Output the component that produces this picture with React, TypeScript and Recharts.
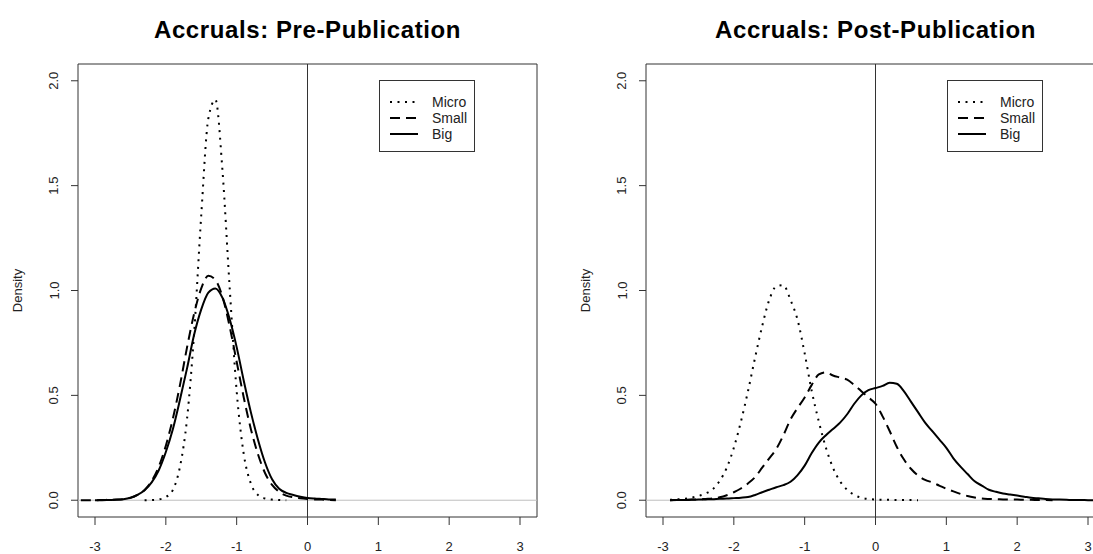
import { LineChart, Line, XAxis, YAxis, ReferenceLine, ReferenceArea, Legend } from "recharts";

// x grid for each panel (density evaluated every 0.1)
const preX = [
  -3.2, -3.1, -3.0, -2.9, -2.8, -2.7, -2.6, -2.5, -2.4, -2.3, -2.2, -2.1, -2.0, -1.9, -1.8, -1.7, -1.6, -1.5, -1.4,
  -1.3, -1.2, -1.1, -1.0, -0.9, -0.8, -0.7, -0.6, -0.5, -0.4, -0.3, -0.2, -0.1, 0.0, 0.1, 0.2, 0.3, 0.4,
];
const preMicro = [
  null, null, null, null, null, null, null, null, null,
  0.0, 0.001, 0.004, 0.015, 0.05, 0.16, 0.39, 0.8, 1.36, 1.82,
  1.91, 1.57, 1.02, 0.52, 0.22, 0.08, 0.025, 0.008, 0.003, 0.001,
  0.0, null, null, null, null, null, null, null,
];
const preSmall = [
  0.0, 0.0, 0.0, 0.001, 0.002, 0.003, 0.005, 0.011, 0.025,
  0.049, 0.092, 0.16, 0.26, 0.39, 0.55, 0.73, 0.89, 1.01, 1.07,
  1.05, 0.97, 0.83, 0.66, 0.49, 0.34, 0.22, 0.13, 0.073, 0.04,
  0.022, 0.014, 0.009, 0.006, 0.004, 0.003, 0.001, 0.0,
];
const preBig = [
  null, null, 0.0, 0.0, 0.001, 0.002, 0.005, 0.012, 0.026,
  0.048, 0.085, 0.143, 0.23, 0.34, 0.48, 0.63, 0.79, 0.91, 0.99,
  1.01, 0.965, 0.865, 0.73, 0.57, 0.42, 0.29, 0.18, 0.1, 0.055,
  0.035, 0.025, 0.017, 0.011, 0.008, 0.006, 0.004, 0.003,
];

const postX = [
  -2.9, -2.8, -2.7, -2.6, -2.5, -2.4, -2.3, -2.2, -2.1, -2.0,
  -1.9, -1.8, -1.7, -1.6, -1.5, -1.4, -1.3, -1.2, -1.1, -1.0,
  -0.9, -0.8, -0.7, -0.6, -0.5, -0.4, -0.3, -0.2, -0.1, 0.0,
  0.1, 0.2, 0.3, 0.4, 0.5, 0.6, 0.7, 0.8, 0.9, 1.0,
  1.1, 1.2, 1.3, 1.4, 1.5, 1.6, 1.7, 1.8, 1.9, 2.0,
  2.1, 2.2, 2.3, 2.4, 2.5, 2.6, 2.7, 2.8, 2.9, 3.0,
  3.1, 3.2,
];
const postMicro = [
  0.002, 0.004, 0.007, 0.012, 0.02, 0.032, 0.052, 0.092, 0.155, 0.25,
  0.375, 0.52, 0.68, 0.83, 0.955, 1.02, 1.025, 0.955, 0.86, 0.7,
  0.52, 0.375, 0.25, 0.155, 0.09, 0.05, 0.025, 0.012, 0.006, 0.003,
  0.002, 0.002, 0.001, 0.001, 0.001, 0.0, null, null, null, null,
  null, null, null, null, null, null, null, null, null, null,
  null, null, null, null, null, null, null, null, null, null,
  null, null,
];
const postSmall = [
  0.0, 0.001, 0.002, 0.003, 0.004, 0.006, 0.008, 0.014, 0.024, 0.038,
  0.056, 0.08, 0.11, 0.155, 0.2, 0.245, 0.31, 0.385, 0.44, 0.49,
  0.55, 0.6, 0.61, 0.595, 0.585, 0.575, 0.55, 0.52, 0.49, 0.46,
  0.4, 0.33, 0.255, 0.195, 0.15, 0.118, 0.097, 0.085, 0.07, 0.055,
  0.042, 0.03, 0.02, 0.013, 0.008, 0.006, 0.005, 0.004, 0.003, 0.003,
  0.002, 0.002, 0.001, 0.001, 0.0, null, null, null, null, null,
  null, null,
];
const postBig = [
  0.0, 0.001, 0.001, 0.002, 0.003, 0.004, 0.005, 0.007, 0.008, 0.01,
  0.012, 0.015, 0.025, 0.038, 0.05, 0.062, 0.072, 0.088, 0.12, 0.165,
  0.225, 0.275, 0.31, 0.34, 0.37, 0.41, 0.46, 0.5, 0.525, 0.535,
  0.545, 0.56, 0.555, 0.52, 0.47, 0.42, 0.37, 0.33, 0.29, 0.25,
  0.2, 0.16, 0.125, 0.09, 0.07, 0.05, 0.04, 0.032, 0.027, 0.022,
  0.017, 0.012, 0.009, 0.006, 0.004, 0.003, 0.002, 0.001, 0.001, 0.0,
  0.0, 0.0,
];

const xTicks = [-3, -2, -1, 0, 1, 2, 3];
const yTicks = [0, 0.5, 1, 1.5, 2];

const FONT = "'Liberation Sans', Arial, sans-serif";

const series = [
  { key: "micro", name: "Micro", dash: "2 5.5" },
  { key: "small", name: "Small", dash: "10 6" },
  { key: "big", name: "Big", dash: undefined },
];

const buildRows = (xs: number[], micro: (number | null)[], small: (number | null)[], big: (number | null)[]) =>
  xs.map((x, i) => ({ x, micro: micro[i], small: small[i], big: big[i] }));

const preData = buildRows(preX, preMicro, preSmall, preBig);
const postData = buildRows(postX, postMicro, postSmall, postBig);

const YTick = (props: any) => {
  const { x, y, payload } = props;
  const cx = x - 15;
  return (
    <text
      x={cx}
      y={y}
      transform={`rotate(-90, ${cx}, ${y})`}
      textAnchor="middle"
      dominantBaseline="central"
      fontSize={13}
      fill="#222"
      fontFamily={FONT}
    >
      {Number(payload.value).toFixed(1)}
    </text>
  );
};

const LegendBox = () => (
  <svg width={97} height={73} style={{ display: "block" }}>
    <rect x={0.5} y={0.5} width={95} height={71} fill="#fff" stroke="#333" />
    {series.map((s, i) => (
      <g key={s.key}>
        <line x1={11} x2={39} y1={22 + i * 16} y2={22 + i * 16} stroke="#000" strokeWidth={2} strokeDasharray={s.dash} />
        <text x={53} y={22 + i * 16} dominantBaseline="central" fontSize={14} fill="#222" fontFamily={FONT}>
          {s.name}
        </text>
      </g>
    ))}
  </svg>
);

const Panel = ({ title, data, left }: { title: string; data: any[]; left: number }) => (
  <div style={{ position: "absolute", left, top: 0, width: 550, height: 554 }}>
    <div
      style={{
        position: "absolute",
        left: 0,
        top: 18,
        width: 615,
        textAlign: "center",
        fontFamily: FONT,
        fontWeight: "bold",
        fontSize: 24,
        lineHeight: "24px",
        letterSpacing: 0.6,
        color: "#000",
        whiteSpace: "nowrap",
      }}
    >
      {title}
    </div>
    <LineChart width={550} height={554} data={data} margin={{ top: 64, right: 13, bottom: 0, left: 0 }}>
      <XAxis
        dataKey="x"
        type="number"
        domain={[-3.24, 3.24]}
        allowDataOverflow
        ticks={xTicks}
        height={37}
        tickSize={8}
        tickMargin={17}
        axisLine={false}
        tickLine={{ stroke: "#333" }}
        tick={{ fill: "#222", fontSize: 13, fontFamily: FONT }}
      />
      <YAxis
        type="number"
        domain={[-0.08, 2.08]}
        allowDataOverflow
        ticks={yTicks}
        width={78}
        tickSize={7}
        axisLine={false}
        tickLine={{ stroke: "#333" }}
        tick={<YTick />}
        label={{
          content: (p: any) => {
            const vb = p.viewBox;
            const cx = vb.x + 17;
            const cy = vb.y + vb.height / 2;
            return (
              <text
                x={cx}
                y={cy}
                transform={`rotate(-90, ${cx}, ${cy})`}
                textAnchor="middle"
                dominantBaseline="central"
                fontSize={13}
                fill="#222"
                fontFamily={FONT}
              >
                Density
              </text>
            );
          },
        }}
      />
      <ReferenceLine y={0} stroke="#bebebe" strokeWidth={1} />
      <ReferenceLine x={0} stroke="#333" strokeWidth={1} />
      <ReferenceArea x1={-3.24} x2={3.24} y1={-0.08} y2={2.08} fill="none" stroke="#333" strokeWidth={1} />
      {series.map((s) => (
        <Line
          key={s.key}
          dataKey={s.key}
          name={s.name}
          type="monotone"
          stroke="#000"
          strokeWidth={2}
          strokeDasharray={s.dash}
          dot={false}
          activeDot={false}
          connectNulls={false}
          isAnimationActive={false}
        />
      ))}
      <Legend
        layout="horizontal"
        verticalAlign="middle"
        align="center"
        wrapperStyle={{ position: "absolute", left: 379, top: 80, width: 97, height: 73 }}
        content={() => <LegendBox />}
      />
    </LineChart>
  </div>
);

export default function App() {
  return (
    <div
      style={{
        position: "absolute",
        left: 0,
        top: 0,
        width: 1093,
        height: 554,
        overflow: "hidden",
        background: "#fff",
      }}
    >
      <Panel title="Accruals: Pre-Publication" data={preData} left={0} />
      <Panel title="Accruals: Post-Publication" data={postData} left={568} />
    </div>
  );
}
